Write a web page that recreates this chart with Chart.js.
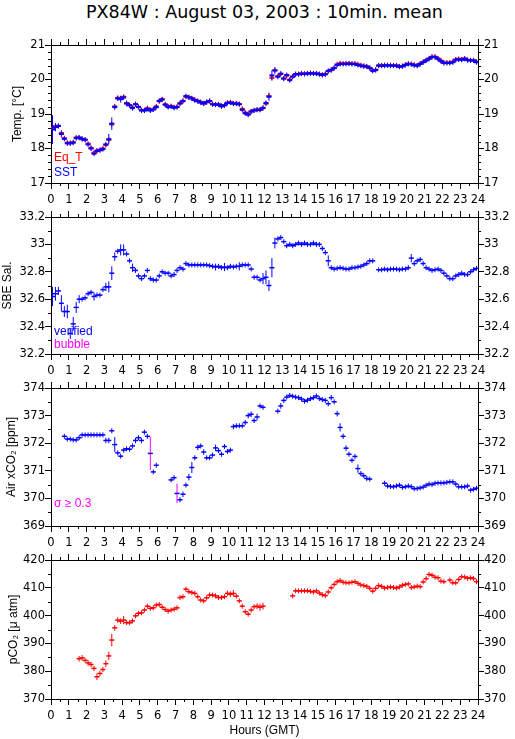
<!DOCTYPE html>
<html>
<head>
<meta charset="utf-8">
<script src="https://cdn.jsdelivr.net/npm/chart.js@4.4.0/dist/chart.umd.min.js"></script>
<style>
  body { margin: 0; background: #fff; width: 515px; height: 739px; position: relative; overflow: hidden; }
  canvas { position: absolute; left: 0; }
  #title { position: absolute; top: 1px; left: 51px; width: 427px; text-align: center;
           font: 17.5px "DejaVu Sans", sans-serif; line-height: 22px; color: #000; }
</style>
</head>
<body>
<div id="title">PX84W : August 03, 2003 : 10min. mean</div>
<canvas id="c0" width="515" height="215" style="top:0px"></canvas>
<canvas id="c1" width="515" height="214" style="top:172px"></canvas>
<canvas id="c2" width="515" height="215" style="top:343px"></canvas>
<canvas id="c3" width="515" height="224" style="top:515px"></canvas>
<script>
// 10 minute means, one value per slot (slot i is centred on (i + 0.5) / 6 hours)
const hours = [];
for (let i = 0; i < 144; i++) hours.push((i + 0.5) / 6);

// SST [°C]
const sstTemp = [
  18.55, 18.62, 18.65, 18.42, 18.28, 18.15, 18.15, 18.17, 18.30, 18.32, 18.28, 18.25,
  18.12, 18.00, 17.85, 17.93, 17.95, 17.98, 18.12, 18.27, 18.72, 19.20, 19.45, 19.43,
  19.48, 19.30, 19.25, 19.17, 19.28, 19.20, 19.10, 19.10, 19.15, 19.10, 19.13, 19.20,
  19.38, 19.42, 19.27, 19.20, 19.22, 19.18, 19.20, 19.30, 19.38, 19.52, 19.48, 19.45,
  19.40, 19.37, 19.33, 19.30, 19.35, 19.38, 19.28, 19.27, 19.28, 19.22, 19.25, 19.32,
  19.33, 19.30, 19.30, 19.28, 19.12, 19.02, 18.98, 19.07, 19.10, 19.12, 19.12, 19.18,
  19.32, 19.50, 20.12, 20.26, 20.08, 20.17, 20.03, 20.13, 19.98, 20.08, 20.15, 20.15,
  20.17, 20.16, 20.17, 20.18, 20.17, 20.17, 20.15, 20.13, 20.15, 20.25, 20.28, 20.33,
  20.42, 20.45, 20.45, 20.45, 20.46, 20.45, 20.45, 20.42, 20.40, 20.38, 20.38, 20.33,
  20.25, 20.28, 20.40, 20.40, 20.40, 20.41, 20.40, 20.40, 20.40, 20.37, 20.38, 20.42,
  20.45, 20.44, 20.41, 20.40, 20.45, 20.50, 20.55, 20.60, 20.65, 20.65, 20.60, 20.53,
  20.48, 20.48, 20.48, 20.50, 20.57, 20.58, 20.57, 20.60, 20.56, 20.55, 20.55, 20.50
];
// Equilibrator temperature [°C]
const eqTemp = [
  18.60, 18.65, 18.66, 18.45, 18.30, 18.17, 18.16, 18.18, 18.32, 18.31, 18.27, 18.26,
  18.14, 18.02, 17.88, 17.94, 17.96, 18.00, 18.10, 18.25, 18.70, 19.22, 19.47, 19.45,
  19.50, 19.32, 19.26, 19.19, 19.29, 19.21, 19.12, 19.11, 19.17, 19.12, 19.14, 19.22,
  19.37, 19.43, 19.28, 19.22, 19.23, 19.20, 19.21, 19.32, 19.37, 19.50, 19.49, 19.46,
  19.41, 19.38, 19.35, 19.31, 19.34, 19.37, 19.29, 19.28, 19.27, 19.24, 19.26, 19.33,
  19.34, 19.31, 19.31, 19.29, 19.15, 19.04, 19.00, 19.08, 19.11, 19.13, 19.13, 19.17,
  19.30, 19.52, 20.05, 20.27, 20.10, 20.16, 20.02, 20.11, 20.00, 20.09, 20.16, 20.16,
  20.18, 20.17, 20.18, 20.19, 20.18, 20.18, 20.16, 20.14, 20.16, 20.24, 20.27, 20.34,
  20.44, 20.47, 20.46, 20.47, 20.47, 20.46, 20.46, 20.44, 20.41, 20.40, 20.37, 20.34,
  20.27, 20.27, 20.41, 20.41, 20.42, 20.42, 20.42, 20.41, 20.41, 20.38, 20.39, 20.43,
  20.46, 20.45, 20.43, 20.41, 20.46, 20.51, 20.56, 20.61, 20.66, 20.66, 20.61, 20.55,
  20.49, 20.49, 20.49, 20.51, 20.58, 20.60, 20.58, 20.61, 20.57, 20.56, 20.56, 20.52
];
// [slot, std dev] where the spread shows
const sstErr = [[0, 0.42], [1, 0.12], [3, 0.1], [19, 0.15], [20, 0.18], [21, 0.08], [23, 0.1],
  [25, 0.08], [73, 0.12], [74, 0.15], [75, 0.1]];

// SBE salinity
const sbeSal = [
  32.62, 32.64, 32.66, 32.57, 32.51, 32.51, 32.35, 32.42, 32.54, 32.60, 32.60, 32.61,
  32.64, 32.65, 32.62, 32.63, 32.63, 32.67, 32.69, 32.69, 32.79, 32.91, 32.95, 32.96,
  32.96, 32.93, 32.88, 32.83, 32.81, 32.77, 32.75, 32.77, 32.81, 32.75, 32.74, 32.74,
  32.77, 32.80, 32.79, 32.79, 32.77, 32.78, 32.81, 32.83, 32.82, 32.86, 32.85, 32.85,
  32.85, 32.85, 32.85, 32.85, 32.85, 32.845, 32.84, 32.835, 32.84, 32.83, 32.835, 32.83,
  32.84, 32.835, 32.84, 32.84, 32.85, 32.85, 32.85, 32.82, 32.76, 32.76, 32.74, 32.75,
  32.76, 32.70, 32.83, 33.01, 33.04, 33.05, 33.02, 32.99, 33.00, 32.99, 33.00, 33.01,
  33.00, 33.01, 33.00, 33.00, 33.01, 33.00, 33.00, 32.97, 32.94, 32.88, 32.83, 32.82,
  32.825, 32.83, 32.825, 32.82, 32.82, 32.83, 32.83, 32.835, 32.84, 32.85, 32.86, 32.88,
  32.88, null, 32.815, 32.815, 32.82, 32.815, 32.82, 32.82, 32.82, 32.815, 32.82, 32.82,
  32.83, 32.90, 32.86, 32.88, 32.89, 32.86, 32.83, 32.82, 32.81, 32.815, 32.82, 32.81,
  32.79, 32.77, 32.75, 32.75, 32.77, 32.78, 32.79, 32.78, 32.78, 32.80, 32.815, 32.825
];
const salErr = [[0, 0.07], [1, 0.05], [2, 0.03], [3, 0.06], [4, 0.04], [5, 0.05], [6, 0.04],
  [7, 0.05], [8, 0.04], [9, 0.03], [14, 0.03], [18, 0.03], [19, 0.04], [20, 0.05], [21, 0.03],
  [23, 0.04], [24, 0.04], [27, 0.03], [55, 0.025], [58, 0.03], [63, 0.03], [71, 0.04],
  [72, 0.05], [73, 0.04], [74, 0.07], [75, 0.04], [93, 0.04], [121, 0.03]];

// Air xCO2 [ppm]
const airXco2 = [
  null, null, null, null, 372.25, 372.15, 372.15, 372.12, 372.12, 372.20, 372.30, 372.30,
  372.30, 372.30, 372.30, 372.30, 372.30, 372.30, 372.10, 372.10, 372.45, 371.95, 371.65, 371.53,
  371.75, 371.80, 371.78, 371.90, 372.10, 372.20, 372.10, 372.40, 372.25, 371.63, 370.96, 371.20,
  null, null, null, null, 370.67, 370.75, 370.18, 369.95, 370.15, 370.48, 370.77, 371.12,
  371.47, 371.85, 371.90, 371.68, 371.47, 371.47, 371.57, 371.83, 371.73, 371.60, 371.88, 371.70,
  371.75, 372.60, 372.63, 372.63, 372.63, 372.75, 373.00, 373.05, 372.82, 372.95, 373.35, 373.30,
  null, null, null, null, 373.16, 373.35, 373.55, 373.67, 373.73, 373.70, 373.67, 373.65,
  373.60, 373.52, 373.56, 373.61, 373.65, 373.71, 373.62, 373.58, 373.55, 373.43, 373.65, 373.50,
  373.07, 372.57, 372.25, 371.82, 371.60, 371.38, 371.52, 371.08, 370.90, 370.82, 370.72, 370.70,
  null, null, null, null, 370.55, 370.45, 370.43, 370.42, 370.45, 370.48, 370.40, 370.42,
  370.45, 370.42, 370.35, 370.36, 370.38, 370.41, 370.47, 370.52, 370.50, 370.55, 370.56, 370.56,
  370.56, 370.58, 370.60, 370.60, 370.52, 370.42, 370.42, 370.42, 370.45, 370.30, 370.33, 370.37
];
const airErr = [[16, 0.08], [17, 0.08], [18, 0.1], [19, 0.1], [20, 0.08], [21, 0.27], [28, 0.1],
  [29, 0.08], [30, 0.1], [32, 0.08], [33, 0.6], [35, 0.08], [42, 0.35], [44, 0.1], [45, 0.08],
  [46, 0.12], [47, 0.2], [49, 0.1], [51, 0.1], [55, 0.12], [58, 0.08], [59, 0.08], [61, 0.1],
  [62, 0.08], [66, 0.1], [67, 0.1], [69, 0.12], [77, 0.1], [94, 0.1], [95, 0.08], [96, 0.1],
  [97, 0.15], [98, 0.1], [99, 0.1], [102, 0.07], [103, 0.15], [107, 0.07]];

// pCO2 [uatm]
const pco2 = [
  null, null, null, null, null, null, null, null, null, 384.5, 384.8, 383.9,
  383.0, 382.4, 381.0, 378.0, 379.2, 380.6, 382.7, 385.5, 391.2, 395.6, 398.4, 398.0,
  398.4, 397.5, 397.4, 398.1, 399.9, 400.8, 401.0, 402.0, 403.4, 402.6, 402.8, 403.8,
  404.0, 403.0, 402.2, 401.6, 402.0, 402.3, 402.8, 406.5, 406.8, 409.5, 408.6, 408.3,
  408.0, 406.8, 405.6, 405.3, 406.4, 407.4, 407.4, 407.1, 406.5, 406.5, 406.8, 408.0,
  407.7, 408.0, 407.0, 405.3, 403.4, 401.4, 400.5, 402.0, 403.2, 403.4, 403.0, 403.4,
  null, null, null, null, null, null, null, null, null, 407.1, 408.9, 408.9,
  408.9, 408.9, 408.9, 408.7, 408.5, 408.9, 408.1, 407.5, 407.2, 408.5, 410.0, 411.2,
  412.2, 412.6, 412.0, 411.8, 411.8, 412.0, 412.2, 411.6, 411.0, 410.8, 410.5, 409.8,
  408.8, 409.8, 410.8, 410.5, 409.9, 410.1, 410.3, 410.1, 409.9, 410.3, 410.9, 411.2,
  411.4, 410.1, 410.3, 410.6, 410.4, 412.1, 413.3, 414.8, 414.5, 413.8, 413.6, 412.4,
  412.2, null, 412.8, 411.8, 411.8, 413.0, 414.0, 413.9, 413.4, 413.6, 413.3, 412.2
];
const pco2Err = [[9, 1], [10, 1], [12, 1], [13, 1], [15, 1.2], [16, 1], [18, 1.2], [19, 1.5],
  [20, 2.2], [21, 1], [22, 1], [23, 1], [24, 1.5], [27, 0.8], [29, 0.9], [31, 0.9], [32, 0.9],
  [44, 0.9], [45, 0.9], [53, 0.9], [55, 0.9], [56, 0.9], [59, 1], [60, 1], [61, 1.2], [64, 0.9],
  [66, 0.9], [69, 1], [70, 1.2], [71, 1.2], [92, 0.8], [93, 0.8], [108, 0.8], [121, 0.8], [138, 0.8]];

Chart.defaults.font.family = '"Liberation Sans", Arial, sans-serif';
Chart.defaults.font.size = 12;
Chart.defaults.color = '#000';
Chart.defaults.animation = false;

const tickFont = { family: '"DejaVu Sans", sans-serif', size: 11.5 };

function errArray(pairs) {
  const e = new Array(144).fill(0);
  pairs.forEach(([i, s]) => { e[i] = s; });
  return e;
}

// each 10 min mean is drawn as a "+" : horizontal dash plus a vertical std dev bar
function crossSets(vals, errPairs, color, dashWidth, bigColor) {
  const errs = errArray(errPairs);
  const pts = vals.map((v, i) => ({ x: hours[i], y: v }));
  return [
    { data: pts, pointStyle: 'line', pointRadius: 2.5, pointBorderWidth: dashWidth,
      pointBorderColor: color, pointHoverRadius: 0 },
    { data: pts, pointStyle: 'line', pointRotation: 90, pointBorderWidth: 1, pointHoverRadius: 0,
      pointBorderColor: c => (bigColor && errs[c.dataIndex] >= 0.3) ? bigColor : color,
      pointRadius: c => {
        const v = vals[c.dataIndex];
        if (v == null) return 0;
        const y = c.chart.scales.y;
        return Math.max(2.5, Math.abs(y.getPixelForValue(v + errs[c.dataIndex]) - y.getPixelForValue(v)));
      } }
  ];
}

// half hour ticks on x, minor ticks on y, and the small in-panel keys
const extras = {
  id: 'extras',
  afterDraw(chart, args, opts) {
    const { ctx, chartArea: a, scales } = chart;
    ctx.save();
    ctx.strokeStyle = '#000';
    ctx.lineWidth = 1;
    ctx.beginPath();
    for (let h = 0.5; h < 24; h += 1) {
      const x = Math.round(scales.x.getPixelForValue(h)) + 0.5;
      ctx.moveTo(x, a.top); ctx.lineTo(x, a.top - 3);
      ctx.moveTo(x, a.bottom); ctx.lineTo(x, a.bottom + 3);
    }
    const n = Math.round((opts.max - opts.min) / opts.minor);
    const per = Math.round(opts.major / opts.minor);
    for (let k = 1; k < n; k++) {
      if (k % per === 0) continue;
      const y = Math.round(scales.y.getPixelForValue(opts.min + k * opts.minor)) + 0.5;
      ctx.moveTo(a.left, y); ctx.lineTo(a.left - 3, y);
      ctx.moveTo(a.right, y); ctx.lineTo(a.right + 3, y);
    }
    ctx.stroke();
    ctx.font = '12px "Liberation Sans", Arial, sans-serif';
    ctx.textBaseline = 'middle';
    (opts.keys || []).forEach(k => {
      ctx.fillStyle = k.color;
      ctx.fillText(k.text, a.left + 3, a.bottom - k.up);
    });
    ctx.restore();
  }
};

const grid = { drawOnChartArea: false, drawTicks: true, tickLength: 6, tickColor: '#000', color: '#000', lineWidth: 1 };
const border = { display: true, color: '#000', width: 1 };
const tickText = v => String(Math.round(v * 10) / 10);

function makePanel(id, p) {
  const canvas = document.getElementById(id);
  const bottomH = canvas.height - 45 - p.plotH;
  return new Chart(canvas, {
    type: 'scatter',
    data: { datasets: p.datasets },
    options: {
      responsive: false,
      events: [],
      layout: { padding: 0 },
      plugins: { legend: { display: false }, tooltip: { enabled: false },
        extras: { min: p.min, max: p.max, major: p.step, minor: p.minor, keys: p.keys } },
      scales: {
        x: { type: 'linear', position: 'bottom', min: 0, max: 24, grid, border,
          ticks: { stepSize: 1, autoSkip: false, maxRotation: 0, padding: 4, font: tickFont },
          title: p.xTitle ? { display: true, text: p.xTitle, padding: { top: 0, bottom: 1 } } : { display: false },
          afterFit: s => { s.height = bottomH; } },
        x2: { type: 'linear', position: 'top', min: 0, max: 24, grid, border,
          ticks: { stepSize: 1, display: false },
          afterFit: s => { s.height = 45; } },
        y: { position: 'left', min: p.min, max: p.max, grid, border,
          ticks: { stepSize: p.step, padding: 0, callback: tickText, font: tickFont },
          title: { display: true, text: p.yTitle, padding: { top: p.titlePad, bottom: 0 } },
          afterFit: s => { s.width = 51; } },
        y2: { position: 'right', min: p.min, max: p.max, grid, border,
          ticks: { stepSize: p.step, padding: 0, callback: tickText, font: tickFont },
          afterFit: s => { s.width = 37; } }
      }
    },
    plugins: [extras]
  });
}

// first dataset is painted last, so SST sits on top of Eq_T
makePanel('c0', {
  plotH: 138, min: 17, max: 21, step: 1, minor: 0.2, yTitle: 'Temp. [°C]', titlePad: 10,
  datasets: [...crossSets(sstTemp, sstErr, '#0000ff', 2), ...crossSets(eqTemp, [], '#ff0000', 2)],
  keys: [{ text: 'Eq_T', color: '#ff0000', up: 25 }, { text: 'SST', color: '#0000ff', up: 10 }]
});
makePanel('c1', {
  plotH: 137, min: 32.2, max: 33.2, step: 0.2, minor: 0.1, yTitle: 'SBE Sal.', titlePad: 0,
  datasets: crossSets(sbeSal, salErr, '#0000ff', 1.5),
  keys: [{ text: 'verified', color: '#0000ff', up: 22 }, { text: 'bubble', color: '#ff00ff', up: 9 }]
});
makePanel('c2', {
  plotH: 138, min: 369, max: 374, step: 1, minor: 0.5, yTitle: 'Air xCO₂ [ppm]', titlePad: 4,
  datasets: crossSets(airXco2, airErr, '#0000ff', 1.5, '#ff00ff'),
  keys: [{ text: 'σ ≥ 0.3', color: '#ff00ff', up: 22 }]
});
makePanel('c3', {
  plotH: 139, min: 370, max: 420, step: 10, minor: 5, yTitle: 'pCO₂ [μ atm]', titlePad: 6,
  xTitle: 'Hours (GMT)',
  datasets: crossSets(pco2, pco2Err, '#ff0000', 1.5)
});
</script>
</body>
</html>
